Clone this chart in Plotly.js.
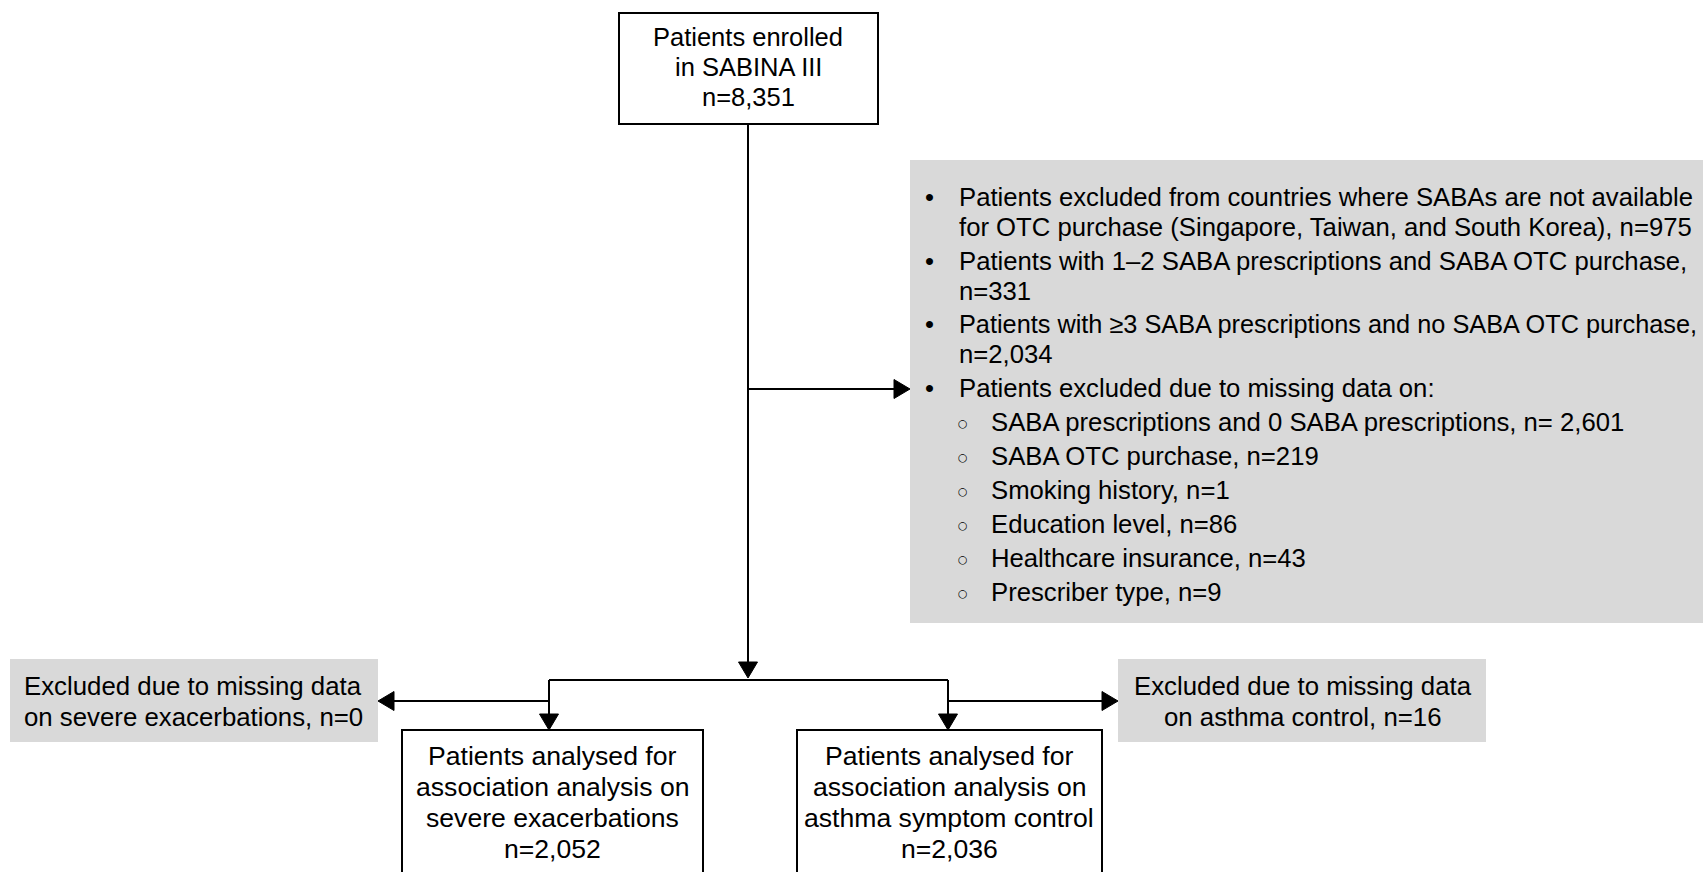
<!DOCTYPE html>
<html>
<head>
<meta charset="utf-8">
<script src="https://cdn.plot.ly/plotly-3.0.1.min.js"></script>
<style>
html,body{margin:0;padding:0;background:#fff;}
#chart{width:1703px;height:872px;}
</style>
</head>
<body>
<div id="chart"></div>
<script>
// ---------------- DATA (texts of the flowchart) ----------------
const enrolledLines = ["Patients enrolled", "in SABINA III", "n=8,351"];

const exclusionLevels = [1, 1, 1, 1, 2, 2, 2, 2, 2, 2];
const exclusionTexts = [
  ["Patients excluded from countries where SABAs are not available",
   "for OTC purchase (Singapore, Taiwan, and South Korea), n=975"],
  ["Patients with 1\u20132 SABA prescriptions and SABA OTC purchase,", "n=331"],
  ["Patients with \u22653 SABA prescriptions and no SABA OTC purchase,", "n=2,034"],
  ["Patients excluded due to missing data on:"],
  ["SABA prescriptions and 0 SABA prescriptions, n= 2,601"],
  ["SABA OTC purchase, n=219"],
  ["Smoking history, n=1"],
  ["Education level, n=86"],
  ["Healthcare insurance, n=43"],
  ["Prescriber type, n=9"]
];

const leftExcludedLines = ["Excluded due to missing data", "on severe exacerbations, n=0"];
const rightExcludedLines = ["Excluded due to missing data", "on asthma control, n=16"];
const leftAnalysedLines = ["Patients analysed for", "association analysis on", "severe exacerbations", "n=2,052"];
const rightAnalysedLines = ["Patients analysed for", "association analysis on", "asthma symptom control", "n=2,036"];

// ---------------- LAYOUT GEOMETRY (pixel space) ----------------
const W = 1703, H = 872;
const FONT = "Liberation Sans, Arial, Helvetica, sans-serif";
const INK = "#000000";
const GRAY = "#d9d9d9";
const LW = 2;

const geo = {
  top:   {x0: 619, x1: 878, y0: 13, y1: 124, cx: 748, firstY: 37, step: 30, size: 25.5},
  panel: {x0: 910, x1: 1720, y0: 160, y1: 623},
  bullets: {dotX: 929, textX: 957, subDotX: 963, subTextX: 989, firstY: 197,
            wrapStep: 30, itemStep: 33.7, subStep: 34, size: 25.7, maxRight: 1700},
  mainX: 748, branchY: 389, splitY: 680, sideY: 701,
  leftX: 549, rightX: 948,
  leftBox:  {x0: 402, x1: 703, y0: 730, y1: 900, cx: 552, firstY: 756, step: 31, size: 26.6},
  rightBox: {x0: 797, x1: 1102, y0: 730, y1: 900, cx: 949, firstY: 756, step: 31, size: 26.6},
  leftEx:  {x0: 10, x1: 378, y0: 659, y1: 742, cx: 193, firstY: 686, step: 31, size: 25.8},
  rightEx: {x0: 1118, x1: 1486, y0: 659, y1: 742, cx: 1303, firstY: 686, step: 31, size: 25.8},
  head: {len: 16, half: 9.5}
};

const shapes = [];
const annotations = [];

function rect(b, fill, border) {
  shapes.push({type: "rect", xref: "x", yref: "y", x0: b.x0, x1: b.x1, y0: b.y0, y1: b.y1,
    fillcolor: fill, line: {color: border ? INK : "rgba(0,0,0,0)", width: border ? LW : 0}, layer: "below"});
}
function seg(x0, y0, x1, y1) {
  shapes.push({type: "line", xref: "x", yref: "y", x0: x0, y0: y0, x1: x1, y1: y1,
    line: {color: INK, width: LW}});
}
function head(tx, ty, dir) {
  const L = geo.head.len, h = geo.head.half;
  let p;
  if (dir === "down") p = `M${tx - h},${ty - L} L${tx + h},${ty - L} L${tx},${ty} Z`;
  else if (dir === "right") p = `M${tx - L},${ty - h} L${tx - L},${ty + h} L${tx},${ty} Z`;
  else p = `M${tx + L},${ty - h} L${tx + L},${ty + h} L${tx},${ty} Z`;
  shapes.push({type: "path", xref: "x", yref: "y", path: p, fillcolor: INK, line: {color: INK, width: 1}});
}
function label(text, x, y, size, anchor) {
  annotations.push({text: text, x: x, y: y, xref: "x", yref: "y", showarrow: false,
    xanchor: anchor || "center", yanchor: "middle",
    font: {family: FONT, size: size, color: INK}});
}
function boxText(lines, g) {
  lines.forEach((t, i) => label(t, g.cx, g.firstY + i * g.step, g.size, "center"));
}

// text width measurement so long bullet lines stay inside the figure
const meas = document.createElement("canvas").getContext("2d");
function fitSize(text, size, x, maxRight) {
  meas.font = size + "px " + FONT;
  const w = meas.measureText(text).width;
  return (x + w > maxRight) ? Math.floor(size * (maxRight - x) / w * 10) / 10 : size;
}

// boxes
rect(geo.panel, GRAY, false);
rect(geo.leftEx, GRAY, false);
rect(geo.rightEx, GRAY, false);
rect(geo.top, "#ffffff", true);
rect(geo.leftBox, "#ffffff", true);
rect(geo.rightBox, "#ffffff", true);

// connectors
const L = geo.head.len;
seg(geo.mainX, geo.top.y1, geo.mainX, geo.splitY - 2 - L + 1);
head(geo.mainX, geo.splitY - 2, "down");
seg(geo.mainX, geo.branchY, geo.panel.x0 - L + 1, geo.branchY);
head(geo.panel.x0, geo.branchY, "right");
seg(geo.leftX, geo.splitY, geo.rightX, geo.splitY);
seg(geo.leftX, geo.splitY, geo.leftX, geo.leftBox.y0 - L + 1);
head(geo.leftX, geo.leftBox.y0, "down");
seg(geo.rightX, geo.splitY, geo.rightX, geo.rightBox.y0 - L + 1);
head(geo.rightX, geo.rightBox.y0, "down");
seg(geo.leftX, geo.sideY, geo.leftEx.x1 + L - 1, geo.sideY);
head(geo.leftEx.x1, geo.sideY, "left");
seg(geo.rightX, geo.sideY, geo.rightEx.x0 - L + 1, geo.sideY);
head(geo.rightEx.x0, geo.sideY, "right");

// texts
boxText(enrolledLines, geo.top);
boxText(leftExcludedLines, geo.leftEx);
boxText(rightExcludedLines, geo.rightEx);
boxText(leftAnalysedLines, geo.leftBox);
boxText(rightAnalysedLines, geo.rightBox);

const B = geo.bullets;
let y = B.firstY;
exclusionTexts.forEach((lines, k) => {
  const lvl = exclusionLevels[k];
  if (k > 0) y += (lvl === 2 ? B.subStep : B.itemStep);
  if (lvl === 1) label("\u2022", B.dotX, y, B.size, "center");
  else annotations.push({text: "\u25CB", x: B.subDotX, y: y + 1, xref: "x", yref: "y", showarrow: false,
    xanchor: "center", yanchor: "middle", font: {family: "DejaVu Sans", size: 11, color: INK}});
  lines.forEach((t, i) => {
    if (i > 0) y += B.wrapStep;
    const tx = lvl === 1 ? B.textX : B.subTextX;
    label(t, tx, y, fitSize(t, B.size, tx, B.maxRight), "left");
  });
});

const layout = {
  width: W, height: H,
  margin: {l: 0, r: 0, t: 0, b: 0, pad: 0},
  paper_bgcolor: "#ffffff", plot_bgcolor: "#ffffff",
  showlegend: false,
  xaxis: {range: [0, W], visible: false, fixedrange: true},
  yaxis: {range: [H, 0], visible: false, fixedrange: true},
  shapes: shapes,
  annotations: annotations
};

Plotly.newPlot("chart", [{x: [], y: [], type: "scatter", mode: "lines", hoverinfo: "skip"}], layout,
  {displayModeBar: false, staticPlot: true});
</script>
</body>
</html>
